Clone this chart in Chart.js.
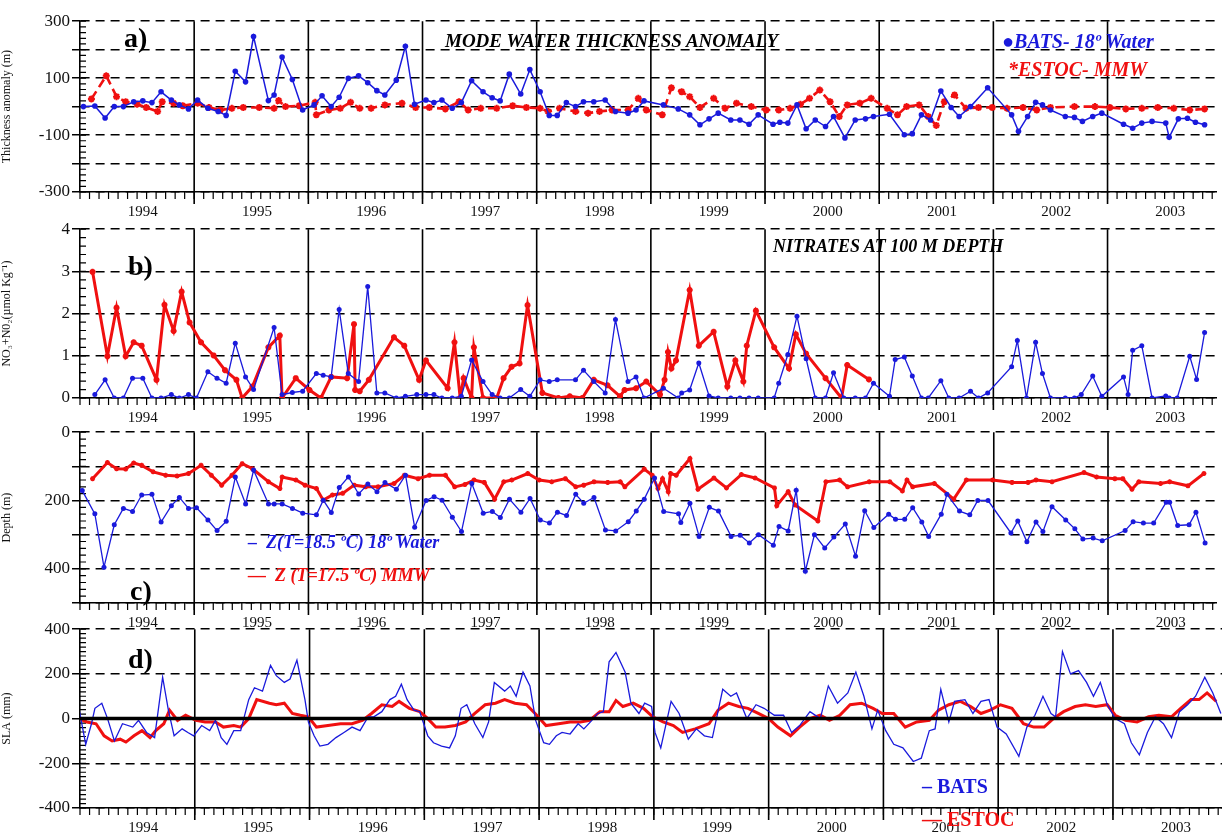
<!DOCTYPE html>
<html>
<head>
<meta charset="utf-8">
<script src="https://cdn.jsdelivr.net/npm/chart.js@4"></script>
<style>
body{margin:0;background:#fff;width:1222px;height:835px;overflow:hidden;position:relative;font-family:"Liberation Serif",serif}
canvas{position:absolute;left:0}
.t{position:absolute;white-space:nowrap;font-weight:bold;font-family:"Liberation Serif",serif}
.i{font-style:italic}
</style>
</head>
<body>
<canvas id="ca" width="1222" height="217" style="top:9px"></canvas>
<canvas id="cb" width="1222" height="215" style="top:217px"></canvas>
<canvas id="cc" width="1222" height="217" style="top:420px"></canvas>
<canvas id="cd" width="1222" height="225" style="top:617px"></canvas>

<div class="t" style="left:124px;top:22px;font-size:28px">a)</div>
<div class="t i" style="left:445px;top:30px;font-size:19px">MODE WATER THICKNESS ANOMALY</div>
<div class="t i" style="left:1002px;top:30px;font-size:20px;color:#1a1adc">&#9679;BATS- 18&ordm; Water</div>
<div class="t i" style="left:1008px;top:58px;font-size:20px;color:#f01010">*ESTOC- MMW</div>
<div class="t" style="left:128px;top:250px;font-size:28px">b)</div>
<div class="t i" style="left:773px;top:236px;font-size:18px">NITRATES AT 100 M DEPTH</div>
<div class="t i" style="left:248px;top:532px;font-size:18px;color:#1a1adc">&#8211;&nbsp; Z(T=18.5 &ordm;C) 18&ordm; Water</div>
<div class="t i" style="left:248px;top:565px;font-size:18px;color:#f01010">&#8212;&nbsp; Z (T=17.5 &ordm;C) MMW</div>
<div class="t" style="left:130px;top:575px;font-size:28px">c)</div>
<div class="t" style="left:128px;top:643px;font-size:28px">d)</div>
<div class="t" style="left:922px;top:775px;font-size:20px;color:#1a1adc">&#8211; BATS</div>
<div class="t" style="left:922px;top:808px;font-size:20px;color:#f01010">&#8212; ESTOC</div>

<script>
// ---- a) mode water thickness anomaly (m)
const aBatsX = [1994.03,1994.13,1994.22,1994.3,1994.38,1994.47,1994.55,1994.63,1994.71,1994.8,1994.87,1994.95,1995.03,1995.12,1995.21,1995.28,1995.36,1995.45,1995.52,1995.65,1995.7,1995.77,1995.86,1995.95,1996.05,1996.12,1996.2,1996.27,1996.35,1996.44,1996.52,1996.6,1996.67,1996.77,1996.85,1996.93,1997.03,1997.1,1997.17,1997.26,1997.34,1997.43,1997.53,1997.61,1997.68,1997.76,1997.86,1997.94,1998.03,1998.11,1998.18,1998.26,1998.34,1998.41,1998.5,1998.6,1998.69,1998.8,1998.87,1998.94,1999.11,1999.24,1999.34,1999.43,1999.51,1999.59,1999.7,1999.78,1999.86,1999.94,2000.07,2000.13,2000.2,2000.28,2000.36,2000.44,2000.53,2000.6,2000.7,2000.79,2000.88,2000.95,2001.09,2001.22,2001.29,2001.37,2001.45,2001.54,2001.63,2001.7,2001.8,2001.95,2002.16,2002.22,2002.3,2002.37,2002.43,2002.5,2002.63,2002.71,2002.78,2002.87,2002.95,2003.14,2003.22,2003.3,2003.39,2003.51,2003.54,2003.62,2003.7,2003.77,2003.85];
const aBatsY = [0,2,-40,0,0,17,20,14,52,23,6,-8,23,-6,-17,-31,124,87,246,21,41,174,95,-12,6,38,0,33,99,108,84,56,41,93,212,8,23,14,23,-6,14,91,52,31,20,114,44,130,52,-31,-31,14,0,17,17,23,-17,-23,-12,20,6,-8,-29,-64,-43,-23,-47,-47,-62,-29,-62,-55,-58,6,-78,-47,-70,-35,-110,-47,-43,-35,-27,-99,-95,-29,-47,55,-3,-35,0,66,-29,-87,-35,15,6,-12,-35,-38,-52,-35,-23,-62,-76,-58,-52,-58,-108,-43,-41,-55,-64];
const aEstX = [1994.1,1994.23,1994.32,1994.4,1994.5,1994.58,1994.68,1994.72,1994.82,1994.9,1995.03,1995.13,1995.23,1995.33,1995.43,1995.57,1995.7,1995.74,1995.8,1995.92,1996.06,1996.07,1996.18,1996.28,1996.37,1996.45,1996.55,1996.67,1996.82,1996.94,1997.06,1997.2,1997.32,1997.4,1997.51,1997.65,1997.79,1997.91,1998.03,1998.1,1998.2,1998.34,1998.45,1998.55,1998.66,1998.8,1998.89,1998.96,1999.1,1999.18,1999.27,1999.34,1999.43,1999.55,1999.65,1999.75,1999.88,2000.01,2000.12,2000.22,2000.31,2000.39,2000.48,2000.57,2000.65,2000.72,2000.83,2000.93,2001.07,2001.16,2001.24,2001.35,2001.43,2001.5,2001.57,2001.66,2001.76,2001.87,2001.99,2002.12,2002.26,2002.38,2002.5,2002.71,2002.89,2003.02,2003.16,2003.3,2003.44,2003.58,2003.72,2003.85];
const aEstY = [27,108,35,17,8,-3,-17,17,12,3,12,-3,-12,-6,-3,-3,-6,21,0,3,15,-29,-12,-6,15,-6,-6,6,12,-3,-3,-8,17,-12,-6,-6,3,-3,-6,-17,-6,-17,-23,-17,-12,-12,29,-12,-29,66,52,35,-3,29,-6,12,0,-12,-12,-6,8,29,58,17,-35,6,12,29,-6,-29,0,6,-35,-66,17,41,-6,-3,-3,-6,-3,-12,-3,0,0,-3,-8,-6,-3,-6,-12,-8];

// ---- b) nitrates at 100 m
const bBatsX = [1994.13,1994.22,1994.3,1994.38,1994.46,1994.55,1994.63,1994.71,1994.8,1994.87,1994.95,1995.02,1995.12,1995.2,1995.28,1995.36,1995.45,1995.52,1995.7,1995.77,1995.86,1995.95,1996.07,1996.13,1996.2,1996.27,1996.35,1996.44,1996.52,1996.6,1996.67,1996.77,1996.85,1996.95,1997.03,1997.1,1997.17,1997.26,1997.34,1997.43,1997.53,1997.61,1997.68,1997.76,1997.86,1997.94,1998.03,1998.11,1998.18,1998.34,1998.41,1998.5,1998.6,1998.69,1998.8,1998.87,1998.94,1999.11,1999.24,1999.27,1999.34,1999.42,1999.51,1999.59,1999.7,1999.78,1999.86,1999.94,2000.08,2000.12,2000.2,2000.28,2000.36,2000.44,2000.53,2000.6,2000.69,2000.79,2000.88,2000.95,2001.09,2001.14,2001.22,2001.29,2001.37,2001.43,2001.54,2001.61,2001.7,2001.8,2001.87,2001.95,2002.16,2002.21,2002.29,2002.37,2002.43,2002.5,2002.63,2002.71,2002.77,2002.87,2002.95,2003.14,2003.18,2003.22,2003.3,2003.39,2003.51,2003.54,2003.61,2003.72,2003.78,2003.85];
const bBatsY = [0.08,0.43,0,0,0.47,0.47,0,0,0.08,0,0.08,0,0.62,0.47,0.35,1.3,0.5,0.2,1.67,0.08,0.13,0.16,0.58,0.54,0.5,2.1,0.58,0.39,2.64,0.12,0.12,0,0.04,0.08,0.08,0.08,0,0,0.04,0.9,0.39,0.08,0,0,0.2,0.04,0.43,0.39,0.43,0.43,0.66,0.39,0.12,1.86,0.39,0.5,0,0.23,0,0.12,0.19,0.83,0.05,0,0,0,0,0,0,0.35,1.03,1.94,0.93,0,0,0.6,0,0,0,0.35,0.04,0.91,0.97,0.52,0,0,0.41,0,0,0.16,0,0.12,0.74,1.36,0,1.32,0.58,0,0,0,0.08,0.52,0.04,0.5,0.08,1.13,1.24,0,0.05,0,0,0.99,0.44,1.55];
const bEstX = [1994.11,1994.24,1994.32,1994.4,1994.47,1994.54,1994.67,1994.74,1994.82,1994.89,1994.96,1995.06,1995.17,1995.27,1995.37,1995.42,1995.51,1995.65,1995.75,1995.77,1995.89,1996.01,1996.11,1996.2,1996.34,1996.4,1996.41,1996.45,1996.53,1996.75,1996.84,1996.97,1997.03,1997.22,1997.28,1997.33,1997.36,1997.43,1997.45,1997.53,1997.65,1997.71,1997.78,1997.85,1997.92,1998.05,1998.19,1998.29,1998.4,1998.5,1998.62,1998.73,1998.77,1998.87,1998.96,1999.08,1999.12,1999.15,1999.18,1999.22,1999.34,1999.42,1999.55,1999.67,1999.74,1999.81,1999.84,1999.92,2000.08,2000.21,2000.27,2000.36,2000.53,2000.67,2000.72,2000.91];
const bEstY = [2.99,0.99,2.14,0.99,1.32,1.24,0.43,2.21,1.59,2.52,1.79,1.32,1.01,0.66,0.43,0,0.27,1.2,1.48,0,0.47,0.19,0,0.5,0.47,1.75,0.19,0.16,0.43,1.44,1.24,0.43,0.89,0.23,1.32,0,0.47,0,1.2,0,0,0.47,0.74,0.82,2.2,0.12,0,0.04,0,0.43,0.3,0.04,0.19,0.23,0.39,0.08,0.43,1.09,0.7,0.89,2.56,1.24,1.57,0.27,0.89,0.39,1.24,2.07,1.2,0.7,1.51,1.05,0.47,0,0.78,0.44];

// ---- c) isotherm depth (m)
const cBatsX = [1994.02,1994.13,1994.21,1994.3,1994.38,1994.46,1994.54,1994.63,1994.71,1994.8,1994.87,1994.95,1995.02,1995.12,1995.2,1995.28,1995.36,1995.45,1995.52,1995.65,1995.7,1995.77,1995.86,1995.95,1996.07,1996.13,1996.2,1996.27,1996.35,1996.44,1996.52,1996.6,1996.67,1996.77,1996.85,1996.93,1997.03,1997.1,1997.17,1997.26,1997.34,1997.43,1997.53,1997.61,1997.68,1997.76,1997.86,1997.94,1998.03,1998.11,1998.18,1998.26,1998.34,1998.41,1998.5,1998.6,1998.69,1998.8,1998.87,1998.94,1999.03,1999.11,1999.24,1999.26,1999.34,1999.42,1999.51,1999.59,1999.7,1999.78,1999.86,1999.94,2000.07,2000.12,2000.2,2000.27,2000.35,2000.43,2000.52,2000.6,2000.7,2000.79,2000.87,2000.95,2001.08,2001.14,2001.22,2001.29,2001.37,2001.43,2001.54,2001.59,2001.7,2001.79,2001.86,2001.95,2002.15,2002.21,2002.29,2002.37,2002.43,2002.51,2002.63,2002.71,2002.78,2002.87,2002.95,2003.15,2003.22,2003.31,2003.4,2003.51,2003.54,2003.61,2003.71,2003.77,2003.85];
const cBatsY = [171,239,395,271,223,232,184,182,263,215,191,223,221,257,288,261,131,210,111,210,210,210,223,237,242,199,235,162,131,181,152,174,147,167,126,278,200,189,199,249,291,150,237,232,250,196,234,194,257,266,234,244,182,208,191,286,289,262,231,196,134,232,239,264,208,305,220,231,305,302,324,300,331,276,289,170,407,300,339,307,269,363,230,279,240,255,255,221,263,305,240,182,231,242,200,200,295,260,321,263,291,218,257,283,313,310,318,288,262,266,266,205,205,273,271,234,324];
const cEstX = [1994.11,1994.24,1994.32,1994.4,1994.47,1994.54,1994.64,1994.75,1994.85,1994.95,1995.06,1995.15,1995.24,1995.33,1995.42,1995.51,1995.65,1995.75,1995.77,1995.89,1995.97,1996.07,1996.13,1996.21,1996.3,1996.4,1996.5,1996.61,1996.75,1996.84,1996.96,1997.06,1997.2,1997.28,1997.37,1997.45,1997.54,1997.63,1997.71,1997.78,1997.92,1998.02,1998.13,1998.25,1998.34,1998.41,1998.5,1998.62,1998.73,1998.77,1998.94,1999.01,1999.06,1999.1,1999.15,1999.17,1999.22,1999.34,1999.41,1999.55,1999.66,1999.79,1999.91,2000.08,2000.1,2000.2,2000.26,2000.46,2000.53,2000.65,2000.72,2000.91,2001.09,2001.2,2001.24,2001.29,2001.48,2001.65,2001.76,2001.99,2002.16,2002.3,2002.37,2002.51,2002.79,2002.9,2003.06,2003.13,2003.21,2003.27,2003.46,2003.54,2003.7,2003.84];
const cEstY = [136,89,107,108,90,97,116,126,128,121,97,126,155,126,92,107,145,165,131,140,155,165,199,184,179,155,160,160,150,126,136,126,126,160,153,140,147,196,145,140,121,140,145,136,160,155,145,147,145,160,108,126,165,136,174,121,126,77,167,134,163,124,134,163,215,174,213,260,145,140,160,145,145,172,140,160,150,196,140,140,147,147,140,145,118,131,136,136,167,145,150,145,157,121];

// ---- d) sea level anomaly (mm)
const dBatsX = [1993.99,1994.05,1994.1,1994.13,1994.19,1994.24,1994.3,1994.37,1994.46,1994.51,1994.58,1994.65,1994.72,1994.77,1994.82,1994.89,1994.94,1994.99,1995.06,1995.13,1995.18,1995.23,1995.28,1995.34,1995.4,1995.47,1995.52,1995.59,1995.66,1995.71,1995.78,1995.83,1995.89,1995.96,1995.99,1996.04,1996.09,1996.16,1996.23,1996.3,1996.37,1996.44,1996.51,1996.56,1996.63,1996.7,1996.75,1996.8,1996.85,1996.91,1996.96,1997.03,1997.08,1997.15,1997.22,1997.27,1997.32,1997.37,1997.44,1997.51,1997.56,1997.61,1997.7,1997.75,1997.8,1997.86,1997.92,1997.97,1998.04,1998.09,1998.15,1998.2,1998.27,1998.34,1998.39,1998.46,1998.51,1998.56,1998.61,1998.67,1998.75,1998.8,1998.87,1998.92,1998.98,1999.01,1999.06,1999.15,1999.22,1999.3,1999.37,1999.44,1999.51,1999.6,1999.67,1999.72,1999.81,1999.89,1999.96,2000.05,2000.13,2000.2,2000.27,2000.36,2000.45,2000.52,2000.6,2000.69,2000.76,2000.83,2000.9,2000.95,2001.02,2001.09,2001.17,2001.26,2001.33,2001.4,2001.45,2001.5,2001.57,2001.62,2001.71,2001.78,2001.85,2001.92,2001.99,2002.07,2002.18,2002.25,2002.32,2002.39,2002.46,2002.5,2002.56,2002.63,2002.7,2002.77,2002.83,2002.89,2002.95,2003.02,2003.1,2003.16,2003.23,2003.3,2003.37,2003.44,2003.51,2003.58,2003.65,2003.72,2003.8,2003.87,2003.94];
const dBatsY = [46,-115,-23,46,69,0,-100,-23,-38,-8,-62,-85,185,38,-77,-46,-62,-77,-31,-54,-8,-85,-115,-54,-54,85,138,123,238,192,162,177,262,85,-15,-77,-123,-115,-85,-62,-38,-54,8,8,31,85,100,154,85,38,31,-77,-108,-123,-131,-77,46,62,-23,-85,-15,162,123,146,100,208,146,-8,-108,-115,-77,-62,-69,-23,-46,-8,23,31,254,296,208,69,23,69,54,-62,-131,77,23,-92,-46,-77,-85,131,100,115,0,62,46,15,15,-62,-31,31,0,146,69,115,208,100,-46,38,-54,-115,-131,-192,-177,-54,-46,131,-15,77,85,23,77,85,-38,-69,-169,-38,15,100,23,8,300,200,215,162,100,162,62,0,-23,-108,-162,-62,8,-23,-85,31,62,100,185,115,23];
const dEstX = [1993.99,1994.06,1994.14,1994.21,1994.28,1994.35,1994.4,1994.47,1994.54,1994.61,1994.66,1994.73,1994.78,1994.85,1994.92,1995.01,1995.09,1995.18,1995.25,1995.34,1995.4,1995.47,1995.54,1995.65,1995.71,1995.78,1995.85,1995.92,1995.99,1996.06,1996.16,1996.27,1996.37,1996.46,1996.54,1996.63,1996.72,1996.78,1996.87,1996.96,1997.03,1997.1,1997.18,1997.27,1997.36,1997.44,1997.53,1997.62,1997.7,1997.79,1997.89,1997.98,1998.06,1998.17,1998.27,1998.36,1998.44,1998.53,1998.61,1998.67,1998.73,1998.82,1998.91,1998.99,1999.08,1999.17,1999.25,1999.36,1999.48,1999.56,1999.65,1999.74,1999.82,1999.91,2000.0,2000.08,2000.19,2000.27,2000.36,2000.45,2000.53,2000.62,2000.71,2000.81,2000.91,2000.99,2001.09,2001.19,2001.29,2001.4,2001.48,2001.57,2001.67,2001.76,2001.85,2001.93,2002.02,2002.12,2002.22,2002.31,2002.4,2002.48,2002.57,2002.67,2002.76,2002.85,2002.95,2003.02,2003.11,2003.21,2003.31,2003.4,2003.51,2003.59,2003.68,2003.75,2003.82,2003.9];
const dEstY = [0,-15,-23,-77,-100,-92,-105,-77,-54,-85,-54,-23,38,-8,15,-8,-15,-15,-38,-31,-38,0,85,69,62,69,23,15,8,-38,-31,-23,-23,-8,23,62,54,77,46,31,0,-38,-38,-31,-15,23,62,69,85,69,62,15,-31,-23,-15,-15,-8,31,31,81,54,69,46,8,-15,-31,-62,-46,-23,38,69,54,46,23,0,-38,-77,-38,0,15,-8,15,62,69,46,23,23,-38,-15,-8,38,62,77,54,23,38,62,46,-23,-38,-38,0,31,54,62,54,62,15,-8,-15,8,15,8,46,85,85,115,77];
const dZeroX = [1994, 2004];
const dZeroY = [0, 0];

const yearMids = [1994.55,1995.55,1996.55,1997.55,1998.55,1999.55,2000.55,2001.55,2002.55,2003.55];
const yearEdges = [1995,1996,1997,1998,1999,2000,2001,2002,2003];

const BLUE = '#1a1adc', RED = '#f01010';
const serif = 'Liberation Serif';

function pts(xs, ys) { return xs.map((x, i) => ({x: x, y: ys[i]})); }

// year lines, month ticks and minor y ticks
const framePlugin = {
	id: 'frame',
	beforeDatasetsDraw(chart, args, opts) {
		const c = chart.ctx, a = chart.chartArea, xs = chart.scales.x, ys = chart.scales.y;
		c.save();
		c.strokeStyle = '#000';
		c.lineWidth = 1.6;
		c.beginPath();
		yearEdges.forEach(v => {
			const p = xs.getPixelForValue(v);
			c.moveTo(p, a.top); c.lineTo(p, a.bottom + 12);
		});
		c.stroke();
		c.lineWidth = 1.2;
		c.beginPath();
		for (let m = 0; m <= 120; m++) {
			const p = xs.getPixelForValue(1994 + m / 12);
			if (p > a.right) break;
			c.moveTo(p, a.bottom); c.lineTo(p, a.bottom + 7);
		}
		for (let v = ys.min; v <= ys.max + 1e-9; v += opts.minor) {
			const p = ys.getPixelForValue(v);
			c.moveTo(a.left, p); c.lineTo(a.left + 6, p);
		}
		c.stroke();
		c.restore();
	}
};

function makeChart(id, datasets, y, minor, title) {
	return new Chart(document.getElementById(id), {
		type: 'line',
		data: { datasets: datasets },
		plugins: [framePlugin],
		options: {
			responsive: false,
			animation: false,
			layout: { padding: { top: 10, right: 0, left: 0, bottom: 0 } },
			plugins: { legend: { display: false }, tooltip: { enabled: false }, frame: { minor: minor } },
			elements: { line: { tension: 0 } },
			scales: {
				x: {
					type: 'linear', min: 1994, max: 2003.95,
					grid: { display: false },
					border: { color: '#000', width: 1.6 },
					afterBuildTicks: s => { s.ticks = yearMids.map(v => ({ value: v })); },
					afterFit: s => { s.height = 34; },
					ticks: { color: '#111', font: { family: serif, size: 15 }, padding: 3,
						callback: v => String(Math.floor(v)) }
				},
				y: Object.assign({
					afterFit: s => { s.width = 80; },
					grid: { color: '#000', lineWidth: 1.5, tickLength: 8, tickColor: '#000' },
					border: { color: '#000', width: 1.6, dash: [9, 6] },
					title: { display: true, text: title, color: '#111', font: { family: serif, size: 12 }, padding: 0 }
				}, y)
			}
		}
	});
}

makeChart('ca', [
	{ data: pts(aBatsX, aBatsY), borderColor: BLUE, backgroundColor: BLUE, borderWidth: 1.5, pointRadius: 2.8, pointBorderWidth: 0 },
	{ data: pts(aEstX, aEstY), borderColor: RED, backgroundColor: RED, borderWidth: 2.6, borderDash: [9, 5], pointStyle: 'star', pointRadius: 3.5, pointBorderWidth: 2 }
], { min: -300, max: 300,
	ticks: { stepSize: 100, color: '#111', font: { family: serif, size: 17 }, padding: 2,
		callback: v => Math.abs(v) % 200 === 100 ? String(v) : '' } }, 20, 'Thickness anomaly (m)');

makeChart('cb', [
	{ data: pts(bBatsX, bBatsY), borderColor: BLUE, backgroundColor: BLUE, borderWidth: 1.3, pointRadius: 2.5, pointBorderWidth: 0 },
	{ data: pts(bEstX, bEstY), borderColor: RED, backgroundColor: RED, borderWidth: 3, pointStyle: 'star', pointRadius: 3, pointBorderWidth: 2 }
], { min: 0, max: 4,
	ticks: { stepSize: 1, color: '#111', font: { family: serif, size: 17 }, padding: 2 } }, 0.2, 'NO\u2083+N0\u2082(\u00b5mol Kg\u207b\u00b9)');

makeChart('cc', [
	{ data: pts(cBatsX, cBatsY), borderColor: BLUE, backgroundColor: BLUE, borderWidth: 1.3, pointRadius: 2.5, pointBorderWidth: 0 },
	{ data: pts(cEstX, cEstY), borderColor: RED, backgroundColor: RED, borderWidth: 3, pointStyle: 'star', pointRadius: 2.5, pointBorderWidth: 1.5 }
], { min: 0, max: 500, reverse: true,
	ticks: { stepSize: 100, color: '#111', font: { family: serif, size: 17 }, padding: 2,
		callback: v => v % 200 === 0 ? String(v) : '' } }, 20, 'Depth (m)');

makeChart('cd', [
	{ data: pts(dZeroX, dZeroY), borderColor: '#000', borderWidth: 3.5, pointRadius: 0 },
	{ data: pts(dBatsX, dBatsY), borderColor: BLUE, borderWidth: 1.3, pointRadius: 0 },
	{ data: pts(dEstX, dEstY), borderColor: RED, borderWidth: 3, pointRadius: 0 }
], { min: -400, max: 400,
	ticks: { stepSize: 200, color: '#111', font: { family: serif, size: 17 }, padding: 2 } }, 20, 'SLA (mm)');
</script>
</body>
</html>
